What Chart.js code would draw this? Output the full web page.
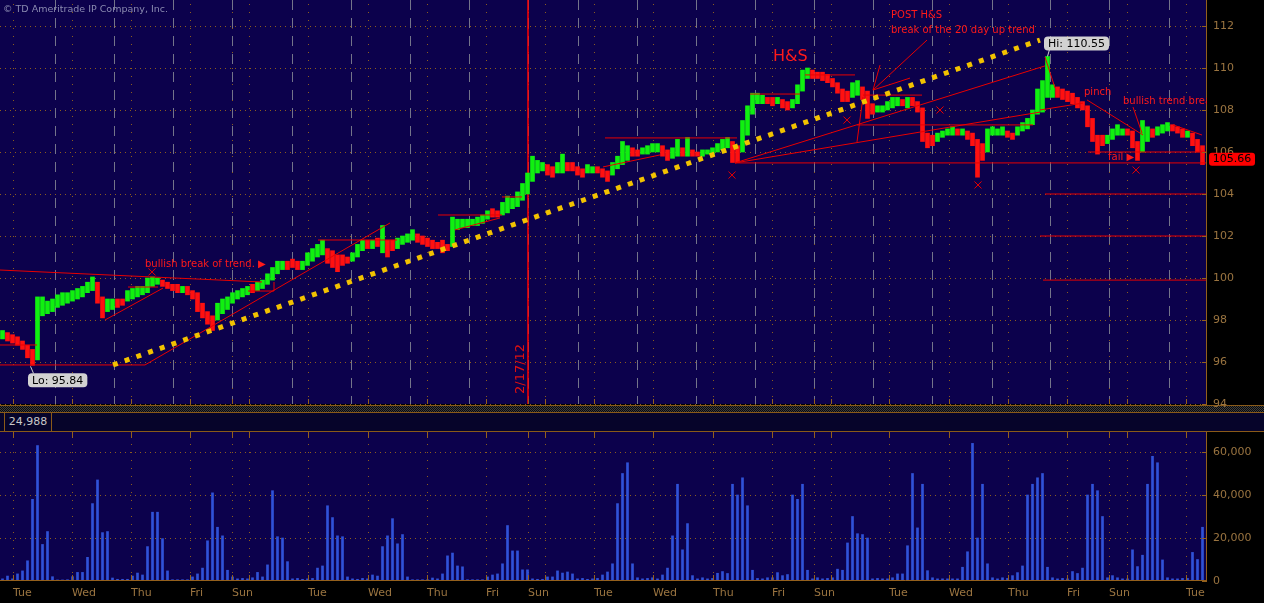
<!DOCTYPE html>
<html>
<head>
<meta charset="utf-8">
<script src="https://cdn.jsdelivr.net/npm/chart.js@4.4.1/dist/chart.umd.min.js"></script>
<style>
  body { margin: 0; background: #000; }
  #wrap { position: relative; width: 1264px; height: 603px; background: #000; overflow: hidden; font-family: "DejaVu Sans", sans-serif; }
  #pricebox { position: absolute; left: 0; top: 0; width: 1264px; height: 412px; z-index: 2; }
  #volbox { position: absolute; left: 0; top: 432px; width: 1264px; height: 171px; z-index: 2; }
  .hl { position: absolute; left: 0; width: 1264px; height: 1px; background: #8a5a18; }
  #checker { position: absolute; left: 0; top: 406px; width: 1264px; height: 6px;
    background: repeating-conic-gradient(#3c3c3c 0% 25%, #0a0a0a 0% 50%) 0 0 / 2px 2px; }
  #vhead { position: absolute; left: 0; top: 413px; width: 1264px; height: 18px; background: #06042a; }
  #vlabel { position: absolute; left: 4px; top: 0; width: 46px; height: 18px; border-left: 1px solid #8a5a18;
    border-right: 1px solid #8a5a18; color: #c8c8c8; font-size: 11px; line-height: 18px; text-align: center; }
</style>
</head>
<body>
<div id="wrap">
  <div class="hl" style="top:405px"></div>
  <div id="checker"></div>
  <div class="hl" style="top:412px"></div>
  <div id="vhead"><div id="vlabel">24,988</div></div>
  <div class="hl" style="top:431px"></div>
  <div id="pricebox"><canvas id="price"></canvas></div>
  <div id="volbox"><canvas id="vol"></canvas></div>
</div>
<script>
// x unit = one bar slot (about two trading hours)
const dayStarts = [2.6, 14.4, 26.2, 38, 46.4, 49.8, 61.6, 73.6, 85.4, 97.2, 105.6, 109, 118.8, 130.6, 142.6,
  154.4, 162.8, 166.2, 177.8, 189.8, 201.6, 213.4, 221.8, 225.4, 237.2]
const dayNames = ["Tue", "Wed", "Thu", "Fri", "Sun", "", "Tue", "Wed", "Thu", "Fri", "Sun", "", "Tue", "Wed", "Thu",
  "Fri", "Sun", "", "Tue", "Wed", "Thu", "Fri", "Sun", "", "Tue"]
const sessionBreaks = [11, 22.8, 34.6, 46.4, 58.4, 70.2, 82, 93.8, 105.6, 115.6, 127.4, 139.2, 151, 162.8, 174.6,
  186.4, 198.4, 210, 221.8, 233.8]

const lows = [
  97.1, 97.0, 96.9, 96.8, 96.6, 96.2, 95.84, 96.1, 98.2, 98.3,
  98.4, 98.6, 98.7, 98.8, 98.9, 99.0, 99.1, 99.3, 99.4, 98.8,
  98.1, 98.4, 98.5, 98.6, 98.7, 98.9, 99.0, 99.1, 99.2, 99.3,
  99.6, 99.7, 99.6, 99.5, 99.4, 99.3, 99.3, 99.2, 99.0, 98.4,
  98.1, 97.8, 97.5, 98.0, 98.3, 98.5, 98.8, 99.0, 99.1, 99.2,
  99.3, 99.4, 99.5, 99.7, 99.9, 100.2, 100.4, 100.4, 100.5, 100.4,
  100.4, 100.6, 100.8, 101.0, 101.1, 100.7, 100.5, 100.3, 100.6, 100.7,
  100.8, 101.0, 101.3, 101.4, 101.4, 101.5, 101.2, 101.0, 101.3, 101.4,
  101.6, 101.7, 101.8, 101.7, 101.6, 101.5, 101.4, 101.4, 101.2, 101.3,
  101.5, 102.3, 102.4, 102.4, 102.5, 102.5, 102.6, 102.8, 102.9, 102.9,
  103.0, 103.1, 103.3, 103.4, 103.7, 104.0, 104.6, 105.0, 105.1, 104.9,
  104.8, 105.0, 105.0, 105.1, 105.1, 104.9, 104.8, 105.0, 105.0, 105.0,
  104.8, 104.6, 104.9, 105.2, 105.4, 105.6, 105.8, 105.8, 105.9, 105.9,
  106.0, 106.0, 105.8, 105.6, 105.7, 105.8, 105.8, 105.8, 105.8, 105.8,
  105.8, 105.9, 105.9, 106.0, 106.1, 106.2, 105.5, 105.5, 106.0, 106.8,
  107.8, 108.3, 108.3, 108.3, 108.2, 108.3, 108.1, 108.0, 108.1, 108.3,
  108.9, 109.5, 109.5, 109.5, 109.4, 109.3, 109.1, 108.8, 108.4, 108.4,
  108.6, 108.7, 108.5, 107.6, 107.8, 107.9, 107.9, 108.0, 108.1, 108.2,
  108.2, 108.1, 108.2, 107.9, 106.5, 106.2, 106.3, 106.5, 106.7, 106.8,
  106.8, 106.8, 106.8, 106.6, 106.3, 104.8, 105.6, 106.0, 106.8, 106.8,
  106.8, 106.7, 106.6, 106.8, 107.0, 107.1, 107.3, 107.8, 107.9, 108.6,
  108.6, 108.6, 108.5, 108.4, 108.3, 108.1, 108.0, 107.2, 106.5, 105.9,
  106.3, 106.4, 106.6, 106.8, 106.8, 106.8, 106.2, 105.6, 106.0, 106.5,
  106.7, 106.8, 106.9, 107.0, 107.0, 106.9, 106.7, 106.7, 106.3, 106.0,
  105.4
]
const highs = [
  97.5, 97.4, 97.3, 97.2, 97.0, 96.8, 96.6, 99.1, 99.1, 98.9,
  99.0, 99.2, 99.3, 99.3, 99.4, 99.5, 99.6, 99.8, 100.05, 99.8,
  99.1, 99.0, 99.0, 99.0, 99.0, 99.4, 99.5, 99.6, 99.6, 100.0,
  100.05, 100.0, 99.9, 99.8, 99.7, 99.7, 99.6, 99.6, 99.4, 99.3,
  98.8, 98.4, 98.2, 98.8, 99.0, 99.1, 99.3, 99.4, 99.5, 99.6,
  99.7, 99.8, 99.9, 100.2, 100.5, 100.8, 100.8, 100.8, 100.9, 100.8,
  100.8, 101.2, 101.4, 101.6, 101.8, 101.4, 101.3, 101.1, 101.1, 101.0,
  101.2, 101.6, 101.8, 101.8, 101.8, 101.9, 102.5, 101.8, 101.8, 101.9,
  102.0, 102.1, 102.3, 102.1, 102.0, 101.9, 101.8, 101.7, 101.8, 101.6,
  102.9, 102.8, 102.8, 102.8, 102.8, 102.9, 103.0, 103.2, 103.3, 103.2,
  103.6, 103.9, 103.8, 104.1, 104.5, 105.0, 105.8, 105.6, 105.5, 105.4,
  105.3, 105.5, 105.9, 105.5, 105.5, 105.3, 105.2, 105.4, 105.3, 105.3,
  105.2, 105.1, 105.5, 105.8, 106.5, 106.3, 106.2, 106.1, 106.2, 106.3,
  106.4, 106.4, 106.3, 106.1, 106.2, 106.6, 106.2, 106.7, 106.1, 106.0,
  106.1, 106.1, 106.2, 106.4, 106.6, 106.7, 106.5, 106.3, 107.5, 108.2,
  108.8, 108.8, 108.7, 108.6, 108.6, 108.6, 108.5, 108.4, 108.5, 109.2,
  109.9, 110.0, 109.9, 109.8, 109.8, 109.7, 109.5, 109.3, 109.0, 108.9,
  109.3, 109.4, 109.1, 108.9, 108.3, 108.2, 108.2, 108.4, 108.6, 108.6,
  108.5, 108.6, 108.6, 108.4, 108.1, 106.9, 106.8, 106.9, 107.0, 107.1,
  107.2, 107.1, 107.1, 107.0, 106.9, 106.6, 106.4, 107.1, 107.2, 107.1,
  107.2, 107.0, 106.9, 107.2, 107.4, 107.6, 108.0, 109.0, 109.4, 110.55,
  109.2, 109.1, 109.0, 108.9, 108.8, 108.6, 108.4, 108.2, 107.6, 106.8,
  106.8, 106.8, 107.1, 107.3, 107.1, 107.1, 107.0, 106.5, 107.5, 107.2,
  107.1, 107.2, 107.3, 107.4, 107.3, 107.2, 107.1, 107.0, 106.9, 106.6,
  106.3
]
// g = up bar, r = down bar
const barDir =
  "grrrrrrggg" + "gggggggggr" + "rggrrggggg" + "ggrrrrgrrr" + "rrrggggggg" +
  "rggggggrrr" + "gggggrrrrr" + "gggrgrgrrg" + "gggrrrrrrr" + "ggggggggrr" +
  "gggggggggr" + "rggrrrrggr" + "rrggggrrgg" + "ggrrggrgrr" + "ggggggrrgg" +
  "gggrrgrrgg" + "ggrrrrrrrr" + "ggrrrggggg" + "rgrrrrrggg" + "grgrrrrggg" +
  "grrggggggg" + "grrrrrrrrr" + "rggggrrrgg" + "rgggrrrgrr" + "r"

// volume, thousands of contracts
const volumes = [
  1, 2.3, 1, 3.3, 4.7, 9.4, 38, 63, 17, 23,
  2, 0.5, 0.5, 0.6, 2, 4, 4, 11, 36, 47,
  22.5, 23, 1.4, 0.8, 0.8, 0.8, 2.3, 3.7, 2.8, 16,
  32, 32, 19.7, 4.7, 0.6, 0.6, 0.6, 0.6, 1.9, 3.3,
  6, 18.7, 41, 25, 21, 5, 1.9, 1, 1.2, 1,
  1.5, 4, 1.9, 7.5, 42, 20.6, 20, 9, 1, 1.2,
  0.8, 1, 1.2, 6, 7, 35, 29.5, 21, 20.6, 1.9,
  1, 0.8, 1.2, 1, 2.8, 2.3, 16, 21, 29, 17.3,
  21.6, 1.9, 0.6, 0.6, 0.6, 0.6, 1.4, 1, 3.3, 11.7,
  13, 7, 6.6, 0.6, 0.6, 0.6, 0.6, 1.9, 2.8, 3.3,
  8, 25.8, 14, 14, 5.2, 5.2, 1, 0.8, 0.8, 1.9,
  1.9, 4.7, 3.7, 4.2, 3.3, 1, 1.2, 0.8, 1, 1.2,
  2.8, 4.2, 8, 36, 50, 55, 8, 1.5, 1, 1.2,
  1.5, 1, 2.8, 6, 21, 45, 14.5, 26.7, 2.5, 1,
  1.5, 1, 1.2, 3.6, 4.4, 3.5, 45, 40, 48, 35,
  5, 1.2, 1, 1.5, 1.5, 3.9, 2.5, 3, 40, 38,
  45, 5, 1, 1.5, 1, 1.2, 1.5, 5.5, 5, 17.7,
  30, 22, 21.6, 20, 1, 1.2, 1, 1, 1.5, 3.3,
  3.3, 16.4, 50, 24.7, 45, 4.8, 1.5, 1, 1, 1,
  1, 1, 6.4, 13.6, 64, 20, 45, 8, 1.5, 1,
  1.5, 1.2, 2.5, 3.9, 7, 40, 45, 48, 50, 6.4,
  1.5, 1, 1.2, 1, 4.4, 3.5, 6, 40, 45, 42,
  30, 1.5, 2.5, 1.5, 1, 1, 14.5, 6.7, 12, 45,
  58, 55, 9.8, 1.5, 1, 1, 1.2, 1.2, 13.3, 10,
  25
]

// annotations drawn on the price panel (x in bar slots, y in price)
const trendSegs = [
  [0, 100.38, 52.4, 99.81], [0, 96.81, 7.4, 96.81], [0, 95.86, 29, 95.86], [29, 95.86, 78, 102.62],
  [21, 98.0, 32.6, 99.52], [25.6, 99.57, 31.6, 99.57], [49.6, 99.38, 54.8, 99.38], [54.8, 99.38, 54.8, 99.81],
  [63.6, 101.81, 79.4, 101.81], [87.6, 103.0, 100.4, 103.0], [100.4, 103.86, 104.4, 103.86],
  [91, 102.29, 100, 102.86], [120.6, 105.29, 132, 105.86], [121, 106.67, 147.4, 106.67],
  [147, 105.48, 209, 110.1], [147, 105.48, 208, 107.9], [147, 105.48, 241.4, 105.48],
  [150, 108.76, 160, 108.76], [161, 109.67, 171, 109.67], [172.6, 108.71, 184.4, 108.71],
  [171.4, 107.29, 206.6, 107.29], [171.4, 106.48, 172.6, 108.62], [185.4, 111.33, 174.6, 108.95],
  [174.6, 108.95, 182, 109.52], [174.6, 108.95, 176, 110.14], [217.6, 106.0, 241.4, 106.0],
  [209, 104.0, 241.4, 104.0], [208, 102.0, 241.4, 102.0], [208.6, 99.9, 241.4, 99.9],
  [217.4, 108.48, 228.6, 106.81], [234.6, 107.29, 240.4, 106.81], [226.6, 108.14, 228.4, 106.9],
  [208, 108.0, 216.6, 108.33], [209, 110.52, 211, 109.05]
]
const supportLine = [[22.6, 95.86], [208, 111.33]]
const crossMarks = [[146.4, 104.9], [169.4, 107.52], [195.6, 104.43], [188, 108.0], [227.2, 105.14], [30.4, 100.29]]
const notes = [
  ["bullish break of trend. \u25B6", 29, 100.67],
  ["H&S", 154.6, 110.52],
  ["POST H&S", 178.2, 112.52],
  ["break of the 20 day up trend", 178.2, 111.81],
  ["pinch", 216.8, 108.86],
  ["bullish trend break", 224.6, 108.43],
  ["fail \u25B6", 221.6, 105.76]
]
const dateMarker = { x: 105.6, label: "2/17/12", y: 95.67 }
const lastPrice = 105.66

const NAVY = "#0c014c"
const DOT = "#8c5c1e"
const AXIS = "#94601c"
const LABEL = "#9a7440"
const GRAY = "#74748a"
const GREEN = "#10f010"
const RED = "#ff1010"
const LINE_RED = "#e80000"
const BLUE = "#3052d8"
const FONT = '"DejaVu Sans", sans-serif'
const X_MAX = 241.4

const crisp = v => Math.round(v) + 0.5
function vline(ctx, x, y0, y1) { ctx.beginPath(); ctx.moveTo(x, y0); ctx.lineTo(x, y1); ctx.stroke() }
function hline(ctx, x0, x1, y) { ctx.beginPath(); ctx.moveTo(x0, y); ctx.lineTo(x1, y); ctx.stroke() }

// keep the plot flush with the canvas edges
function fitRight(s) {
  s.width = 57
  s.paddingTop = 0
  s.paddingBottom = 0
  s.paddingLeft = 0
  s.paddingRight = 0
}

function tagBox(ctx, text, x, y) {
  ctx.font = "11px " + FONT
  const w = ctx.measureText(text).width + 8, h = 14
  ctx.fillStyle = "#d2d2d2"
  ctx.beginPath(); ctx.roundRect(x, y, w, h, 4); ctx.fill()
  ctx.fillStyle = "#000"
  ctx.textAlign = "left"; ctx.textBaseline = "middle"
  ctx.fillText(text, x + 4, y + h / 2 + 0.5)
}

const fillPanel = {
  id: "fillPanel",
  beforeDraw(chart) {
    const { ctx, chartArea: a } = chart
    ctx.save()
    ctx.fillStyle = NAVY
    ctx.fillRect(a.left, a.top, a.width, a.height)
    ctx.restore()
  }
}

const priceGrid = {
  id: "priceGrid",
  beforeDatasetsDraw(chart) {
    const { ctx, chartArea: a, scales: { x, y } } = chart
    ctx.save()
    ctx.lineWidth = 1
    ctx.strokeStyle = DOT
    ctx.setLineDash([1, 4])
    y.ticks.forEach(t => hline(ctx, a.left, a.right, crisp(y.getPixelForValue(t.value))))
    ctx.setLineDash([1, 7])
    dayStarts.forEach(d => vline(ctx, crisp(x.getPixelForValue(d)), a.top + 4, a.bottom))
    ctx.strokeStyle = GRAY
    ctx.setLineDash([10, 8])
    sessionBreaks.forEach(d => vline(ctx, crisp(x.getPixelForValue(d)), a.top, a.bottom))
    // date marker
    ctx.setLineDash([])
    ctx.strokeStyle = "#ff0000"
    ctx.lineWidth = 1.5
    vline(ctx, x.getPixelForValue(dateMarker.x), a.top, a.bottom)
    ctx.restore()
  },
  afterDatasetsDraw(chart) {
    const { ctx, chartArea: a, scales: { x, y } } = chart
    ctx.save()
    // axis and ticks
    ctx.strokeStyle = AXIS
    ctx.lineWidth = 1
    vline(ctx, crisp(a.right - 1), 0, a.bottom)
    y.ticks.forEach(t => hline(ctx, a.right - 5, a.right, crisp(y.getPixelForValue(t.value))))
    dayStarts.forEach(d => vline(ctx, crisp(x.getPixelForValue(d)), a.bottom - 5, a.bottom))

    // copyright
    ctx.fillStyle = "#8a8ab0"
    ctx.font = "9.5px " + FONT
    ctx.textAlign = "left"; ctx.textBaseline = "middle"
    ctx.fillText("\u00A9 TD Ameritrade IP Company, Inc.", 3, 10)

    // notes, clipped to the plot
    ctx.save()
    ctx.beginPath(); ctx.rect(a.left, a.top, a.width, a.height); ctx.clip()
    notes.forEach(([text, nx, ny]) => {
      ctx.font = (text === "H&S" ? "16px " : "10px ") + FONT
      ctx.fillStyle = "#ff1a1a"
      ctx.fillText(text, x.getPixelForValue(nx), y.getPixelForValue(ny))
    })
    ctx.restore()

    // rotated date label
    ctx.save()
    ctx.translate(x.getPixelForValue(dateMarker.x) - 7, y.getPixelForValue(dateMarker.y))
    ctx.rotate(-Math.PI / 2)
    ctx.font = "13px " + FONT
    ctx.fillStyle = "#e01010"
    ctx.textAlign = "center"; ctx.textBaseline = "middle"
    ctx.fillText(dateMarker.label, 0, 0)
    ctx.restore()

    // hi / lo tags
    const hi = Math.max(...highs), hiIdx = highs.indexOf(hi)
    const lo = Math.min(...lows), loIdx = lows.indexOf(lo)
    const hx = x.getPixelForValue(hiIdx + 0.5), hy = y.getPixelForValue(hi)
    const lx = x.getPixelForValue(loIdx + 0.5), ly = y.getPixelForValue(lo)
    ctx.strokeStyle = "#cfcfcf"
    ctx.beginPath(); ctx.moveTo(hx, hy); ctx.lineTo(hx + 2, hy - 7); ctx.stroke()
    ctx.beginPath(); ctx.moveTo(lx - 2, ly + 1); ctx.lineTo(lx + 1, ly + 8); ctx.stroke()
    tagBox(ctx, "Hi: " + hi.toFixed(2), hx - 3.5, hy - 20)
    tagBox(ctx, "Lo: " + lo.toFixed(2), lx - 4.5, ly + 8)

    // last price bubble
    const py = y.getPixelForValue(lastPrice)
    ctx.fillStyle = "#ff0000"
    ctx.beginPath(); ctx.roundRect(a.right + 2, py - 6.5, 46, 13, 3); ctx.fill()
    ctx.fillStyle = "#000"
    ctx.font = "11px " + FONT
    ctx.textAlign = "center"; ctx.textBaseline = "middle"
    ctx.fillText(lastPrice.toFixed(2), a.right + 25, py + 0.5)
    ctx.restore()
  }
}

const volGrid = {
  id: "volGrid",
  beforeDatasetsDraw(chart) {
    const { ctx, chartArea: a, scales: { x, y } } = chart
    ctx.save()
    ctx.lineWidth = 1
    ctx.strokeStyle = DOT
    ctx.setLineDash([1, 4])
    y.ticks.forEach(t => { if (t.value > 0) hline(ctx, a.left, a.right, crisp(y.getPixelForValue(t.value))) })
    ctx.setLineDash([1, 7])
    dayStarts.forEach(d => vline(ctx, crisp(x.getPixelForValue(d)), a.top + 12, a.bottom - 6))
    ctx.restore()
  },
  afterDatasetsDraw(chart) {
    const { ctx, chartArea: a, scales: { x, y } } = chart
    ctx.save()
    ctx.strokeStyle = AXIS
    ctx.lineWidth = 1
    vline(ctx, crisp(a.right - 1), a.top, a.bottom)
    hline(ctx, a.left, a.right, crisp(a.bottom - 1))
    y.ticks.forEach(t => hline(ctx, a.right - 5, a.right, crisp(y.getPixelForValue(t.value))))
    dayStarts.forEach(d => {
      const px = crisp(x.getPixelForValue(d))
      vline(ctx, px, a.top, a.top + 6)
      vline(ctx, px, a.bottom - 6, a.bottom)
    })
    ctx.restore()
  }
}

Chart.defaults.font.family = FONT

const priceChart = new Chart(document.getElementById("price"), {
  type: "bar",
  data: {
    datasets: [
      {
        type: "line",
        data: crossMarks.map(([cx, cy]) => ({ x: cx, y: cy })),
        showLine: false,
        pointStyle: "crossRot",
        pointRadius: 5,
        pointBorderColor: LINE_RED,
        pointBorderWidth: 1,
        order: 0
      },
      {
        type: "line",
        data: supportLine.map(([sx, sy]) => ({ x: sx, y: sy })),
        borderColor: "#f2c200",
        borderWidth: 5,
        borderDash: [5, 7.4],
        borderCapStyle: "butt",
        pointRadius: 0,
        order: 1
      },
      {
        type: "line",
        data: trendSegs.flatMap(([x1, y1, x2, y2]) => [{ x: x1, y: y1 }, { x: x2, y: y2 }, { x: x2, y: null }]),
        borderColor: LINE_RED,
        borderWidth: 1,
        pointRadius: 0,
        spanGaps: false,
        order: 2
      },
      {
        data: lows.map((lo, i) => ({ x: i + 0.5, y: [lo, highs[i]] })),
        backgroundColor: barDir.split("").map(c => (c === "g" ? GREEN : RED)),
        barThickness: 4,
        grouped: false,
        order: 3
      }
    ]
  },
  options: {
    responsive: true,
    maintainAspectRatio: false,
    animation: false,
    devicePixelRatio: 1,
    layout: { autoPadding: false, padding: { top: 0, left: 0, right: 0, bottom: 8 } },
    plugins: { legend: { display: false }, tooltip: { enabled: false } },
    scales: {
      x: { type: "linear", min: 0, max: X_MAX, offset: false, display: false },
      y: {
        position: "right",
        min: 94,
        max: 113.238,
        afterFit: fitRight,
        grid: { display: false, drawTicks: false },
        border: { display: false },
        ticks: { stepSize: 2, includeBounds: false, color: LABEL, padding: 6, font: { size: 11 } }
      }
    }
  },
  plugins: [fillPanel, priceGrid]
})

const volChart = new Chart(document.getElementById("vol"), {
  type: "bar",
  data: {
    datasets: [{
      data: volumes.map((v, i) => ({ x: i + 0.5, y: v })),
      backgroundColor: BLUE,
      barThickness: 2
    }]
  },
  options: {
    responsive: true,
    maintainAspectRatio: false,
    animation: false,
    devicePixelRatio: 1,
    layout: { autoPadding: false, padding: 0 },
    plugins: { legend: { display: false }, tooltip: { enabled: false } },
    scales: {
      x: {
        type: "linear",
        min: 0,
        max: X_MAX,
        offset: false,
        afterFit: s => { s.height = 22; s.paddingLeft = 0; s.paddingRight = 0 },
        afterBuildTicks: s => { s.ticks = dayStarts.map(v => ({ value: v })) },
        grid: { display: false, drawTicks: false },
        border: { display: false },
        ticks: {
          autoSkip: false,
          maxRotation: 0,
          minRotation: 0,
          align: "start",
          padding: 6,
          color: LABEL,
          font: { size: 11 },
          callback: (v, i) => dayNames[i]
        }
      },
      y: {
        position: "right",
        min: 0,
        max: 69.3,
        afterFit: fitRight,
        grid: { display: false, drawTicks: false },
        border: { display: false },
        ticks: {
          stepSize: 20,
          includeBounds: false,
          color: LABEL,
          padding: 6,
          font: { size: 11 },
          callback: v => (v * 1000).toLocaleString("en-US")
        }
      }
    }
  },
  plugins: [fillPanel, volGrid]
})
</script>
</body>
</html>
